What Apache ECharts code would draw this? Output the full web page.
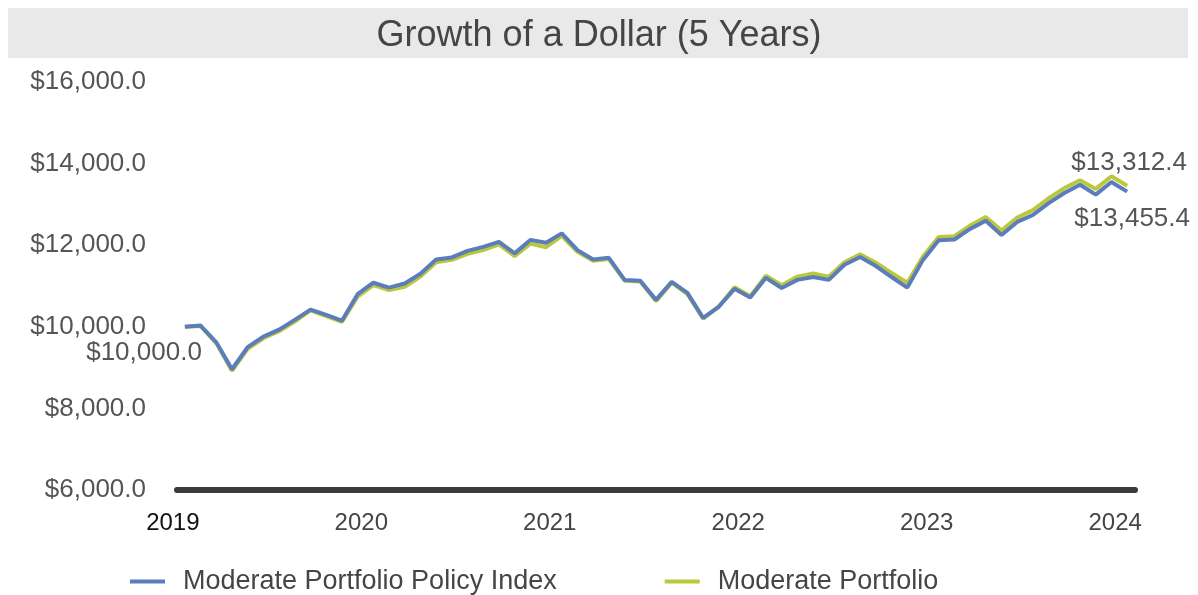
<!DOCTYPE html>
<html>
<head>
<meta charset="utf-8">
<script src="https://cdn.jsdelivr.net/npm/echarts@6/dist/echarts.min.js"></script>
<style>
  html, body { margin: 0; padding: 0; background: #fff; }
  #chart { width: 1198px; height: 595px; }
</style>
</head>
<body>
<div id="chart"></div>
<script>
// monthly points, Jan 2019 .. Jan 2024
const months = [
  "2019-01","2019-02","2019-03","2019-04","2019-05","2019-06","2019-07","2019-08","2019-09","2019-10","2019-11","2019-12",
  "2020-01","2020-02","2020-03","2020-04","2020-05","2020-06","2020-07","2020-08","2020-09","2020-10","2020-11","2020-12",
  "2021-01","2021-02","2021-03","2021-04","2021-05","2021-06","2021-07","2021-08","2021-09","2021-10","2021-11","2021-12",
  "2022-01","2022-02","2022-03","2022-04","2022-05","2022-06","2022-07","2022-08","2022-09","2022-10","2022-11","2022-12",
  "2023-01","2023-02","2023-03","2023-04","2023-05","2023-06","2023-07","2023-08","2023-09","2023-10","2023-11","2023-12",
  "2024-01"
];

const policyIndex = [
  10000, 10030, 9620, 8960, 9500, 9760, 9930, 10170, 10420, 10290, 10150, 10800,
  11080, 10960, 11060, 11300, 11650, 11700, 11860, 11960, 12080, 11800, 12130, 12060,
  12290, 11880, 11650, 11690, 11150, 11130, 10660, 11100, 10830, 10220, 10490, 10930,
  10720, 11200, 10950, 11150, 11220, 11150, 11520, 11710, 11490, 11220, 10960, 11640,
  12120, 12140, 12400, 12600, 12250, 12570, 12740, 13030, 13280, 13480, 13240, 13550,
  13312.4
];

const portfolio = [
  10000, 10020, 9600, 8920, 9460, 9720, 9890, 10130, 10400, 10260, 10120, 10740,
  11020, 10900, 10980, 11230, 11580, 11640, 11790, 11880, 12020, 11730, 12040, 11950,
  12230, 11840, 11620, 11660, 11130, 11110, 10630, 11080, 10800, 10200, 10500, 10970,
  10750, 11250, 11020, 11230, 11310, 11230, 11580, 11780, 11570, 11320, 11080, 11720,
  12200, 12220, 12480, 12690, 12360, 12680, 12860, 13150, 13400, 13590, 13380, 13690,
  13455.4
];

const seriesNames = ["Moderate Portfolio Policy Index", "Moderate Portfolio"];

const FONT = "'Liberation Sans', Arial, sans-serif";
const NARROW = "'Liberation Sans Narrow', 'Liberation Sans', sans-serif";
const BLUE = "#5b7dbb";
const GREEN = "#bcc83c";

function money(v) {
  return "$" + v.toLocaleString("en-US", { minimumFractionDigits: 1, maximumFractionDigits: 1 });
}

// only the first / last points carry a label, the rest stay plain
function withLabels(values, firstLabel, lastLabel) {
  return values.map((v, i) => {
    if (i === 0 && firstLabel) return { value: v, label: firstLabel };
    if (i === values.length - 1 && lastLabel) return { value: v, label: lastLabel };
    return v;
  });
}

const labelText = { fontFamily: FONT, fontSize: 26, color: "#555" };

const chart = echarts.init(document.getElementById("chart"), null, { renderer: "canvas" });

chart.setOption({
  animation: false,
  backgroundColor: "#fff",
  graphic: [
    {
      type: "rect",
      left: 8, top: 8, z: -1,
      shape: { width: 1180, height: 50 },
      style: { fill: "#e9e9e9" }
    }
  ],
  title: {
    text: "Growth of a Dollar (5 Years)",
    left: "center",
    top: 13,
    textStyle: { fontFamily: FONT, fontSize: 36, fontWeight: "normal", color: "#454545" }
  },
  legend: {
    data: seriesNames,
    left: 125,
    top: 563,
    icon: "rect",
    itemWidth: 35,
    itemHeight: 4,
    itemGap: 108,
    textStyle: { fontFamily: FONT, fontSize: 27, color: "#454545", padding: [0, 0, 0, 13] }
  },
  grid: { left: 177, right: 63, top: 82, bottom: 105 },
  xAxis: {
    type: "category",
    data: months,
    boundaryGap: true,
    axisLine: { show: true, lineStyle: { color: "#3b3b3b", width: 6 } },
    axisTick: { show: false },
    splitLine: { show: false },
    axisLabel: {
      interval: (i) => i % 12 === 0,
      formatter: (val, i) => (i === 0 ? "{first|" + val.slice(0, 4) + "}" : val.slice(0, 4)),
      margin: 21,
      padding: [0, 24, 0, 0],
      fontFamily: NARROW,
      fontSize: 24,
      color: "#454545",
      rich: { first: { fontFamily: NARROW, fontSize: 24, color: "#111" } }
    }
  },
  yAxis: {
    type: "value",
    min: 6000,
    max: 16000,
    interval: 2000,
    axisLine: { show: false },
    axisTick: { show: false },
    splitLine: { show: false },
    axisLabel: {
      margin: 31,
      fontFamily: FONT,
      fontSize: 26,
      color: "#555",
      formatter: money
    }
  },
  series: [
    {
      name: seriesNames[1],
      type: "line",
      data: withLabels(portfolio, null, {
        show: true, position: "bottom", distance: 20, offset: [5, 0],
        formatter: (p) => money(p.value), ...labelText
      }),
      showSymbol: true,
      symbol: "circle",
      symbolSize: 0,
      lineStyle: { color: GREEN, width: 4 },
      itemStyle: { color: GREEN },
      z: 2
    },
    {
      name: seriesNames[0],
      type: "line",
      data: withLabels(policyIndex, {
        show: true, position: "left", distance: 5, offset: [22, 26],
        formatter: (p) => money(p.value), ...labelText
      }, {
        show: true, position: "top", distance: 16, offset: [2, 0],
        formatter: (p) => money(p.value), ...labelText
      }),
      showSymbol: true,
      symbol: "circle",
      symbolSize: 0,
      lineStyle: { color: BLUE, width: 4 },
      itemStyle: { color: BLUE },
      z: 3
    }
  ]
});
</script>
</body>
</html>
